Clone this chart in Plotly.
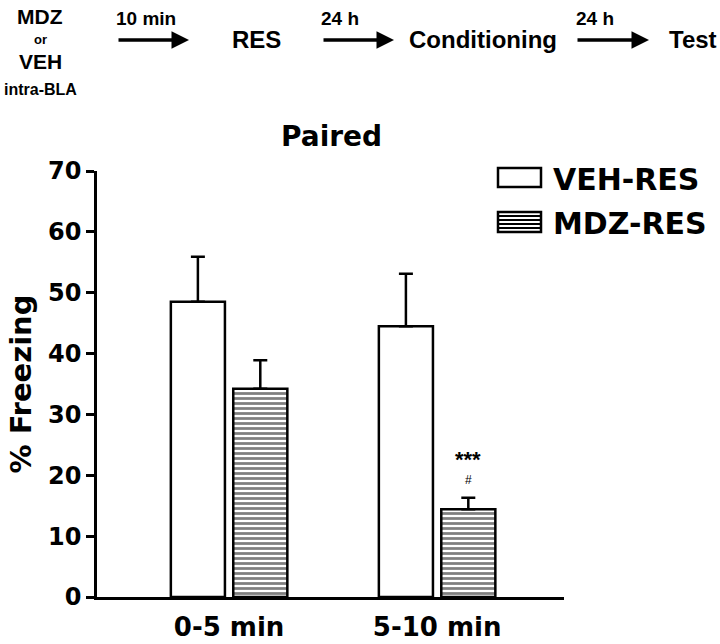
import plotly.graph_objects as go

# ---- data ----
categories = ["0-5 min", "5-10 min"]
veh_res = [48.5, 44.5]
veh_sem = [7.4, 8.6]
mdz_res = [34.2, 14.4]
mdz_sem = [4.7, 1.9]
series_names = ["VEH-RES", "MDZ-RES"]

FB = "DejaVu Sans"
FN = "Liberation Sans, Arial"

# plot area in pixels
X0, X1, YT, YB = 97, 564, 171, 597
W, H = 720, 644


def px(x):
    return (x - X0) / (X1 - X0)


def py(y):
    return (YB - y) / (YB - YT)


xpos = list(range(len(categories)))

fig = go.Figure()
fig.add_trace(go.Bar(
    x=xpos, y=veh_res, name=series_names[0],
    offset=-0.28, width=0.26,
    marker=dict(color="white", line=dict(color="black", width=2.5)),
    error_y=dict(type="data", symmetric=False, array=veh_sem,
                 arrayminus=[0] * len(veh_sem), color="black",
                 thickness=2.5, width=7),
    showlegend=False,
))
fig.add_trace(go.Bar(
    x=xpos, y=mdz_res, name=series_names[1],
    offset=0.02, width=0.26,
    marker=dict(color="white", line=dict(color="black", width=2.5),
                pattern=dict(shape="-", fgcolor="black", bgcolor="white",
                             size=5, solidity=0.55)),
    error_y=dict(type="data", symmetric=False, array=mdz_sem,
                 arrayminus=[0] * len(mdz_sem), color="black",
                 thickness=2.5, width=7),
    showlegend=False,
))

annotations = []
shapes = []

# significance marks over the MDZ 5-10 min bar
annotations.append(dict(x=1 + 0.15, y=mdz_res[1] + mdz_sem[1], xref="x", yref="y",
                        text="<b>***</b>", showarrow=False, yshift=38,
                        yanchor="middle",
                        font=dict(family=FN, size=22, color="black")))
annotations.append(dict(x=1 + 0.15, y=mdz_res[1] + mdz_sem[1], xref="x", yref="y",
                        text="#", showarrow=False, yshift=18, yanchor="middle",
                        font=dict(family=FN, size=12, color="black")))

# title
annotations.append(dict(x=px(331), y=py(136), xref="paper", yref="paper",
                        text="<b>Paired</b>", showarrow=False, yanchor="middle",
                        font=dict(family=FB, size=28, color="black")))

# legend (manual)
shapes.append(dict(type="rect", xref="paper", yref="paper",
                   x0=px(498), x1=px(541), y0=py(168), y1=py(187),
                   line=dict(color="black", width=2.5), fillcolor="white"))
shapes.append(dict(type="rect", xref="paper", yref="paper",
                   x0=px(498), x1=px(541), y0=py(212), y1=py(232),
                   line=dict(color="black", width=2.5), fillcolor="white"))
for yy in [216, 220, 224, 228]:
    shapes.append(dict(type="line", xref="paper", yref="paper",
                       x0=px(498), x1=px(541), y0=py(yy), y1=py(yy),
                       line=dict(color="black", width=2)))
annotations.append(dict(x=px(551), y=py(179), xref="paper", yref="paper",
                        xanchor="left", yanchor="middle",
                        text="<b>" + series_names[0] + "</b>",
                        showarrow=False, font=dict(family=FB, size=30, color="black")))
annotations.append(dict(x=px(551), y=py(223), xref="paper", yref="paper",
                        xanchor="left", yanchor="middle",
                        text="<b>" + series_names[1] + "</b>",
                        showarrow=False, font=dict(family=FB, size=30, color="black")))

# top protocol diagram
def txt(x, y, s, size, anchor="center"):
    annotations.append(dict(x=px(x), y=py(y), xref="paper", yref="paper",
                            xanchor=anchor, yanchor="middle",
                            text="<b>" + s + "</b>", showarrow=False,
                            font=dict(family=FN, size=size, color="black")))


def arrow(x0, x1, y):
    annotations.append(dict(x=px(x1), y=py(y), xref="paper", yref="paper",
                            ax=-(x1 - x0), ay=0, axref="pixel", ayref="pixel",
                            text="", showarrow=True, arrowhead=2, arrowsize=1,
                            arrowwidth=3.5, arrowcolor="black", standoff=0))


txt(40, 16, "MDZ", 21)
txt(40, 40, "or", 13)
txt(40, 62, "VEH", 21)
txt(40, 89, "intra-BLA", 16)
txt(146, 19, "10 min", 19)
arrow(117, 189, 40)
txt(256, 39, "RES", 24)
txt(340, 19, "24 h", 19)
arrow(322, 394, 40)
txt(483, 40, "Conditioning", 24)
txt(595, 19, "24 h", 19)
arrow(576, 649, 40)
txt(693, 40, "Test", 24)

fig.update_layout(
    width=W, height=H,
    margin=dict(l=X0, r=W - X1, t=YT, b=H - YB, pad=0, autoexpand=False),
    paper_bgcolor="white", plot_bgcolor="white",
    barmode="overlay",
    annotations=annotations, shapes=shapes,
    xaxis=dict(range=[-0.635, 1.61], tickvals=xpos, ticktext=categories,
               showline=True, linecolor="black", linewidth=3,
               ticks="", showgrid=False, zeroline=False, automargin=False,
               ticklabelstandoff=5,
               tickfont=dict(family=FB, size=26, color="black", weight="bold")),
    yaxis=dict(range=[0, 70], dtick=10, showline=True, linecolor="black",
               linewidth=2.5, ticks="outside", ticklen=8, tickwidth=2.5,
               tickcolor="black", showgrid=False, zeroline=False,
               automargin=False,
               tickfont=dict(family=FB, size=24, color="black", weight="bold"),
               title=dict(text="<b>% Freezing</b>", standoff=8,
                          font=dict(family=FB, size=29, color="black"))),
)
fig.write_html("out.html",
               config={"displayModeBar": False},
               post_script="document.body.style.margin='0';"
                           "document.body.style.overflow='hidden';")
